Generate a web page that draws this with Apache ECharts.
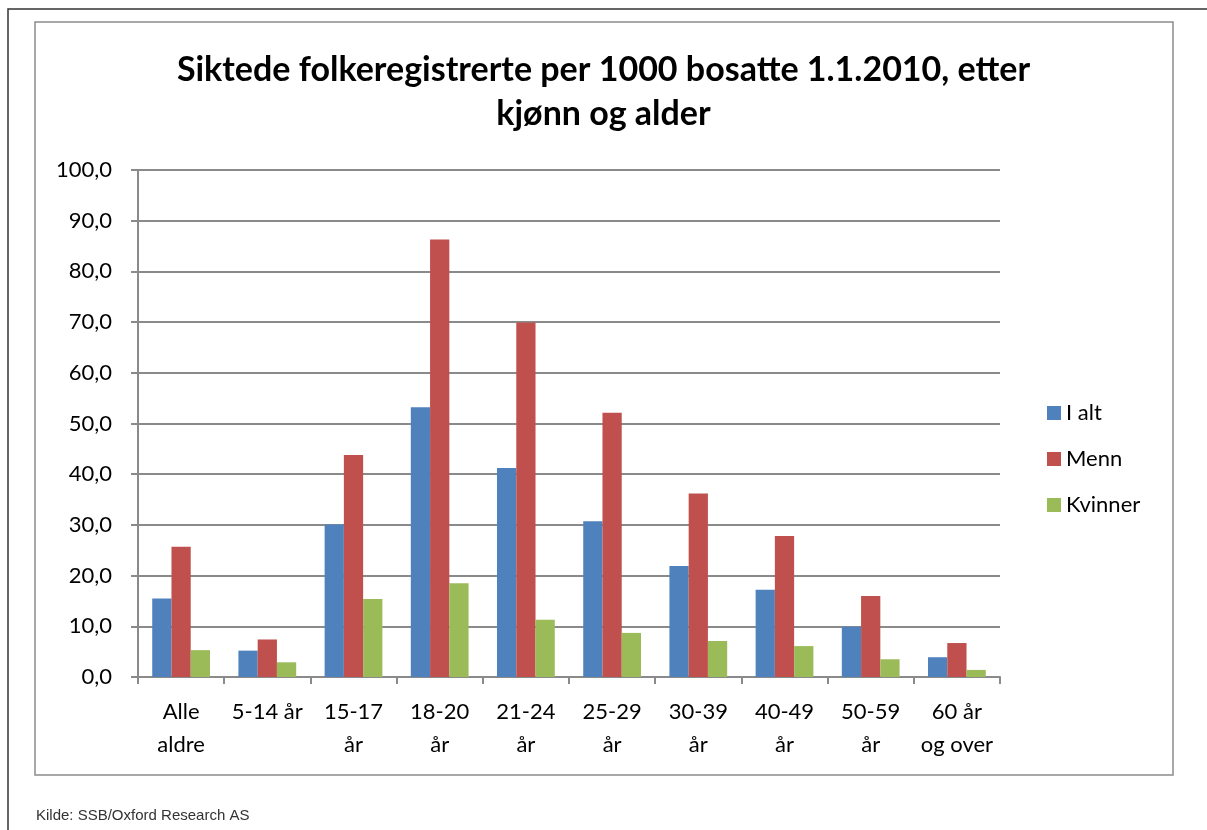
<!DOCTYPE html>
<html>
<head>
<meta charset="utf-8">
<script src="https://cdn.jsdelivr.net/npm/echarts@6/dist/echarts.min.js"></script>
<style>
  html, body { margin: 0; padding: 0; background: #fff; }
  #chart { width: 1207px; height: 830px; }
</style>
</head>
<body>
<div id="chart"></div>
<script>
// data
var categories = ['Alle\naldre', '5-14 år', '15-17\når', '18-20\når', '21-24\når', '25-29\når', '30-39\når', '40-49\når', '50-59\når', '60 år\nog over'];
var iAlt = [15.5, 5.2, 30.1, 53.2, 41.2, 30.7, 21.9, 17.2, 9.9, 3.9];
var menn = [25.7, 7.4, 43.8, 86.3, 69.9, 52.1, 36.2, 27.8, 16.0, 6.7];
var kvinner = [5.3, 2.9, 15.4, 18.5, 11.3, 8.7, 7.1, 6.1, 3.5, 1.4];
var seriesNames = ['I alt', 'Menn', 'Kvinner'];
var colors = ['#4F81BD', '#C0504D', '#9BBB59'];

var chart = echarts.init(document.getElementById('chart'));

var font = 'Lato, "Noto Sans", sans-serif';
var gridGrey = '#8a8a8a';

function bar(name, data, color) {
  return {
    name: name,
    type: 'bar',
    data: data,
    barGap: '0%',
    barCategoryGap: '33%',
    itemStyle: { color: color },
    emphasis: { disabled: true }
  };
}

var option = {
  animation: false,
  backgroundColor: '#fff',
  title: {
    text: 'Siktede folkeregistrerte per 1000 bosatte 1.1.2010, etter\nkjønn og alder',
    left: 'center',
    top: 43,
    textStyle: {
      fontFamily: font,
      fontWeight: 'bold',
      fontSize: 34,
      lineHeight: 44,
      color: '#000'
    }
  },
  legend: {
    orient: 'vertical',
    left: 1042,
    top: 397,
    icon: 'rect',
    itemWidth: 14,
    itemHeight: 14,
    itemGap: 24,
    data: seriesNames,
    textStyle: { fontFamily: font, fontSize: 22, color: '#000' }
  },
  grid: {
    left: 138,
    right: 207,
    top: 170,
    bottom: 153
  },
  xAxis: {
    type: 'category',
    data: categories,
    axisLine: { lineStyle: { color: gridGrey, width: 2 } },
    axisTick: { show: true, length: 7, lineStyle: { color: gridGrey, width: 2 } },
    axisLabel: {
      fontFamily: font,
      fontSize: 22,
      lineHeight: 33,
      color: '#000',
      margin: 18,
      interval: 0
    }
  },
  yAxis: {
    type: 'value',
    min: 0,
    max: 100,
    interval: 10,
    axisLine: { show: true, lineStyle: { color: gridGrey, width: 2 } },
    axisTick: { show: true, length: 7, lineStyle: { color: gridGrey, width: 2 } },
    splitLine: { lineStyle: { color: gridGrey, width: 2 } },
    axisLabel: {
      fontFamily: font,
      fontSize: 22,
      color: '#000',
      margin: 26,
      formatter: function (v) { return v.toFixed(1).replace('.', ','); }
    }
  },
  graphic: [
    // page frame
    { type: 'polyline', shape: { points: [[8, 830], [8, 9], [1207, 9]] }, style: { stroke: '#333', lineWidth: 1.5, fill: null } },
    // chart area box
    { type: 'rect', shape: { x: 35, y: 22, width: 1138, height: 753 }, style: { stroke: '#8c8c8c', lineWidth: 1.5, fill: null }, z: -1 },
    {
      type: 'text', left: 36, top: 808,
      style: { text: 'Kilde: SSB/Oxford Research AS', fontFamily: '"Liberation Sans Narrow", "Liberation Sans", sans-serif', fontSize: 15, fill: '#333' }
    }
  ],
  series: [
    bar(seriesNames[0], iAlt, colors[0]),
    bar(seriesNames[1], menn, colors[1]),
    bar(seriesNames[2], kvinner, colors[2])
  ]
};

chart.setOption(option);
</script>
</body>
</html>
